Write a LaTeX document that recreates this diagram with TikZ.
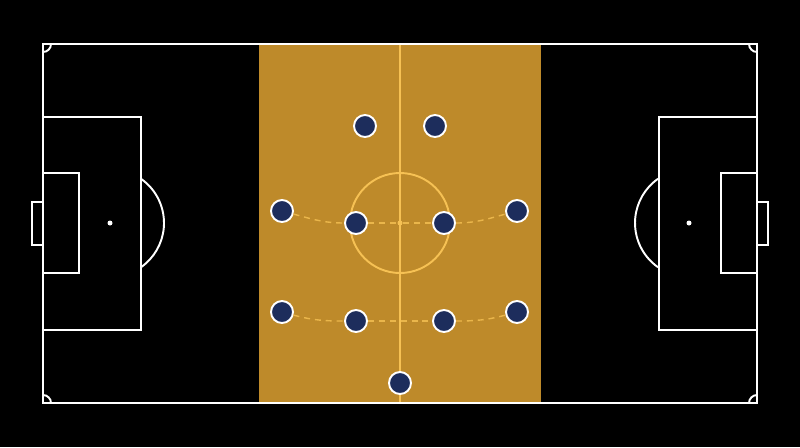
\documentclass[tikz,border=0pt]{standalone}
\usetikzlibrary{arrows}
\definecolor{pitchgold}{RGB}{190,138,42}
\definecolor{linegold}{RGB}{246,193,84}
\definecolor{navy}{RGB}{29,45,92}

\begin{document}
\begin{tikzpicture}[x=0.02cm,y=-0.02cm]
\tikzstyle{player} = [circle, draw=white, line width=1.1pt, fill=navy,
inner sep=0pt, minimum size=0.44cm]
\tikzstyle{pitch} = [draw=white, line width=1.1pt]
\tikzstyle{goldline} = [draw=linegold, line width=1.1pt]
\tikzstyle{link} = [draw=linegold, line width=0.8pt, opacity=0.8,
dash pattern=on 3.4pt off 2.8pt]
\tikzstyle{spot} = [circle, inner sep=0pt, minimum size=0.1cm]

% background and middle zone
\fill[black] (0,0) rectangle (800,447);
\fill[pitchgold] (259,44) rectangle (541,403);
\draw[goldline] (400,44) -- (400,403);
\draw[goldline] (400,223) circle (50);
\node [spot, fill=linegold] (kickoff) at (400,223) {};

% pitch markings
\draw[pitch] (43,44) rectangle (757,403);
\draw[pitch] (43,117) rectangle (141,330);
\draw[pitch] (43,173) rectangle (79,273);
\draw[pitch] (43,202) -- (32,202) -- (32,245) -- (43,245);
\draw[pitch] (659,117) rectangle (757,330);
\draw[pitch] (721,173) rectangle (757,273);
\draw[pitch] (757,202) -- (768,202) -- (768,245) -- (757,245);
\draw[pitch] (110,223) ++(-55:54) arc[start angle=-55, end angle=55, radius=54];
\draw[pitch] (689,223) ++(125:54) arc[start angle=125, end angle=235, radius=54];
\node [spot, fill=white] (lspot) at (110,223) {};
\node [spot, fill=white] (rspot) at (689,223) {};
% corner arcs
\draw[pitch] (51,44) .. controls (51,48.4) and (47.4,52) .. (43,52);
\draw[pitch] (749,44) .. controls (749,48.4) and (752.6,52) .. (757,52);
\draw[pitch] (51,403) .. controls (51,398.6) and (47.4,395) .. (43,395);
\draw[pitch] (749,403) .. controls (749,398.6) and (752.6,395) .. (757,395);

% players
\node [player] (stl) at (365,126) {};
\node [player] (str) at (435,126) {};
\node [player] (ml) at (282,211) {};
\node [player] (mcl) at (356,223) {};
\node [player] (mcr) at (444,223) {};
\node [player] (mr) at (517,211) {};
\node [player] (dl) at (282,312) {};
\node [player] (dcl) at (356,321) {};
\node [player] (dcr) at (444,321) {};
\node [player] (dr) at (517,312) {};
\node [player] (keeper) at (400,383) {};

% lines between players
\path[link] (ml) to[out=-15, in=180] (mcl);
\path[link] (mcl) -- (kickoff);
\path[link] (kickoff) -- (mcr);
\path[link] (mcr) to[out=0, in=195] (mr);
\path[link] (dl) to[out=-15, in=180] (dcl);
\path[link] (dcl) -- (dcr);
\path[link] (dcr) to[out=0, in=195] (dr);
\end{tikzpicture}
\end{document}
